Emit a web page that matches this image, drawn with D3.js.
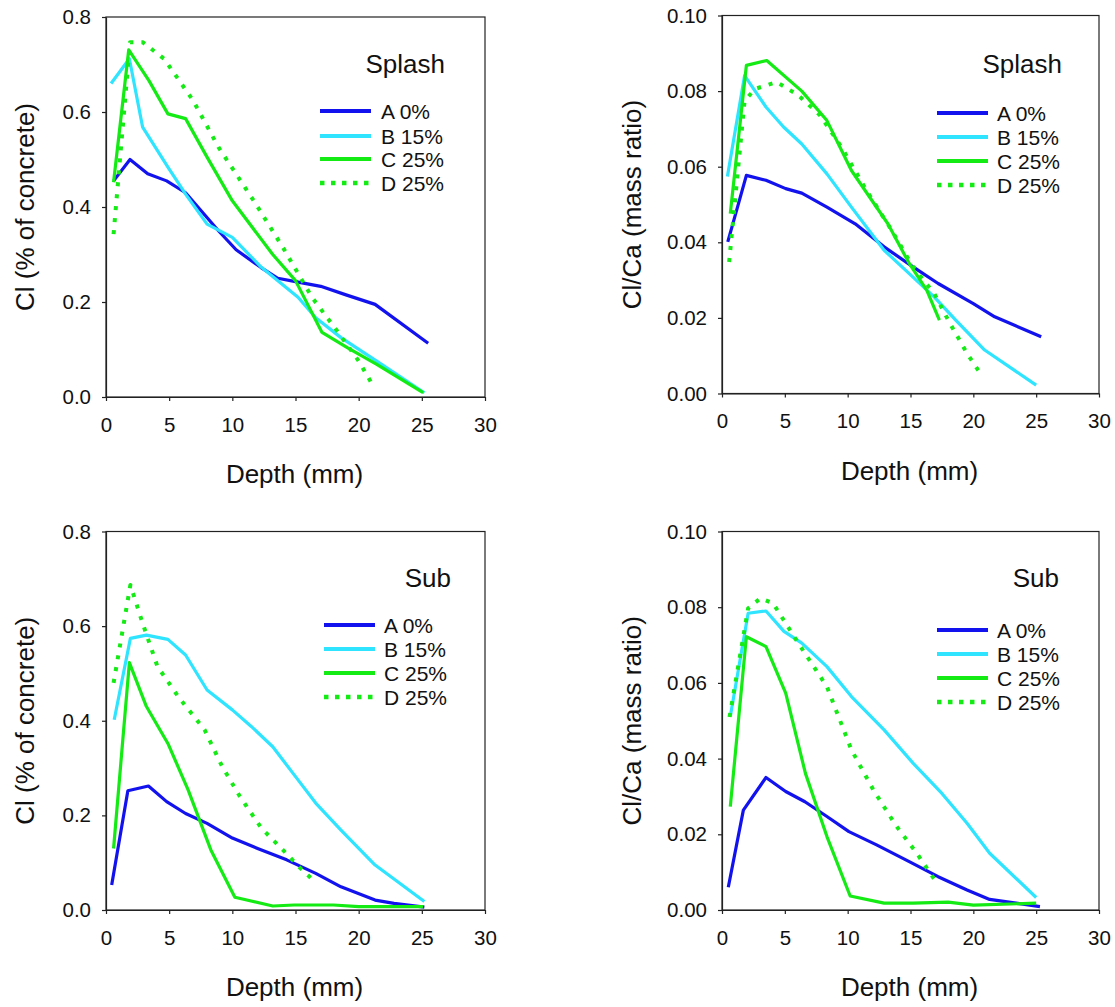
<!DOCTYPE html>
<html>
<head>
<meta charset="utf-8">
<script src="https://cdn.jsdelivr.net/npm/d3@7"></script>
<style>
  body { margin: 0; background: #fff; }
  text { font-family: "Liberation Sans", Arial, sans-serif; fill: #111; }
</style>
</head>
<body>
<svg id="chart" width="1115" height="1007"></svg>
<script>
// ---------- data (depth mm, value) ----------
const seriesNames = ["A 0%", "B 15%", "C 25%", "D 25%"];
const seriesColors = ["#1212ee", "#2ee4ff", "#14ea14", "#14ea14"];
const seriesDashed = [false, false, false, true];

const xTicks = [0, 5, 10, 15, 20, 25, 30];
const clTicks = [0.0, 0.2, 0.4, 0.6, 0.8];
const ratioTicks = [0.00, 0.02, 0.04, 0.06, 0.08, 0.10];

// Splash – Cl (% of concrete)
const splashClA = [[0.6,0.455],[1.9,0.50],[3.3,0.47],[4.8,0.455],[6.3,0.43],[7.6,0.39],[8.9,0.35],[10.3,0.31],[12.3,0.272],[13.6,0.25],[15,0.243],[17,0.233],[19,0.215],[21.3,0.195],[25.5,0.113]];
const splashClB = [[0.4,0.66],[1.85,0.712],[2.9,0.568],[4.9,0.484],[6.3,0.427],[8.0,0.364],[10,0.336],[12.3,0.273],[15.2,0.21],[16.6,0.167],[18.6,0.125],[21.4,0.076],[25.2,0.009]];
const splashClC = [[0.6,0.452],[1.8,0.731],[3.4,0.666],[4.9,0.596],[6.3,0.586],[8.0,0.505],[10,0.413],[13.2,0.30],[15,0.245],[17.1,0.136],[19.1,0.104],[21.4,0.069],[25.1,0.009]];
const splashClD = [[0.6,0.343],[1.9,0.747],[2.9,0.747],[4.6,0.712],[6.9,0.624],[8.9,0.526],[11.7,0.413],[14.0,0.315],[16.3,0.21],[18.3,0.139],[20,0.076],[21,0.030]];

// Splash – Cl/Ca (mass ratio)
const splashRatioA = [[0.46,0.0401],[1.94,0.0577],[3.5,0.0564],[5.07,0.0542],[6.35,0.053],[8.35,0.0493],[10.6,0.0449],[12.9,0.0388],[15.2,0.0335],[17.2,0.0291],[20,0.0238],[21.7,0.0203],[25.4,0.015]];
const splashRatioB = [[0.43,0.0574],[1.8,0.0841],[3.5,0.0758],[4.9,0.0705],[6.35,0.066],[8.35,0.0581],[10.3,0.0493],[12.9,0.0379],[15.2,0.0308],[16.9,0.0255],[18.6,0.0194],[20.9,0.0115],[25,0.0022]];
const splashRatioC = [[0.66,0.0476],[1.94,0.0868],[3.56,0.0881],[6.35,0.080],[8.35,0.0722],[10.3,0.059],[13.2,0.0449],[14.9,0.0344],[16.3,0.0273],[17.3,0.0194]];
const splashRatioD = [[0.57,0.0348],[1.8,0.0775],[2.65,0.0806],[4.36,0.0824],[6.07,0.0789],[7.8,0.0736],[9.5,0.0652],[11.5,0.0537],[13.5,0.0432],[15.2,0.0335],[16.9,0.0264],[18,0.0194],[19.5,0.0106],[20.7,0.0046]];

// Sub – Cl (% of concrete)
const subClA = [[0.45,0.053],[1.73,0.252],[3.36,0.262],[4.8,0.229],[6.3,0.204],[8.0,0.183],[10,0.152],[12,0.13],[14.3,0.106],[16.6,0.0775],[18.6,0.049],[21.3,0.021],[22.8,0.014],[25.2,0.006]];
const subClB = [[0.65,0.402],[1.93,0.574],[3.2,0.581],[4.9,0.572],[6.3,0.539],[8.0,0.465],[10,0.423],[11.5,0.388],[13.2,0.345],[15.2,0.275],[16.6,0.226],[18.6,0.169],[21.3,0.095],[25.2,0.018]];
const subClC = [[0.6,0.13],[1.85,0.523],[3.2,0.43],[4.9,0.352],[6.5,0.254],[8.3,0.127],[10.2,0.027],[13.2,0.0085],[14.9,0.0106],[18,0.0106],[20,0.007],[25.1,0.007]];
const subClD = [[0.6,0.48],[1.93,0.687],[2.9,0.606],[4.07,0.515],[5.8,0.448],[7.8,0.381],[9.2,0.303],[10.6,0.24],[12.3,0.173],[14,0.127],[15.4,0.088],[16.4,0.063]];

// Sub – Cl/Ca (mass ratio)
const subRatioA = [[0.5,0.006],[1.7,0.0264],[3.5,0.035],[5.07,0.0313],[6.6,0.0286],[8.35,0.0247],[10.1,0.0207],[12.3,0.0172],[14.9,0.0128],[17.2,0.0088],[19.5,0.0053],[21.3,0.0028],[23.4,0.0018],[25.3,0.0009]];
const subRatioB = [[0.66,0.0511],[2.08,0.0784],[3.5,0.079],[4.93,0.0736],[6.35,0.0705],[8.35,0.0643],[10.3,0.0564],[12.9,0.0476],[15.2,0.0388],[17.5,0.0308],[19.5,0.0229],[21.3,0.015],[25,0.0033]];
const subRatioC = [[0.66,0.0273],[1.94,0.0722],[3.5,0.0696],[5.07,0.0573],[6.64,0.0361],[8.35,0.0194],[10.2,0.0037],[12.9,0.0018],[15.2,0.0018],[18,0.0021],[20,0.0013],[25,0.0018]];
const subRatioD = [[0.6,0.051],[2.08,0.0797],[3.08,0.0824],[4.07,0.081],[6.07,0.0705],[8.35,0.059],[10.3,0.0423],[12.05,0.0317],[13.8,0.0225],[15.5,0.015],[17.2,0.0066]];

// ---------- panels ----------
const panels = [
  {left:106, right:485, top:17, bottom:397, yMax:0.8, ticks:clTicks, fmt:d3.format(".1f"),
   ytitle:"Cl (% of concrete)", ytitleX:34, label:"Splash", labelX:445, labelY:73,
   legX:320, legTextX:381, legY:[111,136,159,183],
   series:[splashClA, splashClB, splashClC, splashClD]},
  {left:722, right:1099, top:15.5, bottom:393.5, yMax:0.10, ticks:ratioTicks, fmt:d3.format(".2f"),
   ytitle:"Cl/Ca (mass ratio)", ytitleX:641, label:"Splash", labelX:1062, labelY:73,
   legX:937, legTextX:997, legY:[113,137,161,185],
   series:[splashRatioA, splashRatioB, splashRatioC, splashRatioD]},
  {left:106, right:485, top:531.5, bottom:910, yMax:0.8, ticks:clTicks, fmt:d3.format(".1f"),
   ytitle:"Cl (% of concrete)", ytitleX:34, label:"Sub", labelX:451, labelY:587,
   legX:324, legTextX:384, legY:[625,649,673,697],
   series:[subClA, subClB, subClC, subClD]},
  {left:722, right:1099, top:531.5, bottom:910, yMax:0.10, ticks:ratioTicks, fmt:d3.format(".2f"),
   ytitle:"Cl/Ca (mass ratio)", ytitleX:641, label:"Sub", labelX:1059, labelY:587,
   legX:937, legTextX:997, legY:[630,654,678,702],
   series:[subRatioA, subRatioB, subRatioC, subRatioD]}
];

const svg = d3.select("#chart");

panels.forEach(p => {
  const x = d3.scaleLinear().domain([0, 30]).range([p.left, p.right]);
  const y = d3.scaleLinear().domain([0, p.yMax]).range([p.bottom, p.top]);
  const g = svg.append("g");

  // frame (top and right borders)
  g.append("rect")
    .attr("x", p.left).attr("y", p.top)
    .attr("width", p.right - p.left).attr("height", p.bottom - p.top)
    .attr("fill", "none").attr("stroke", "#222").attr("stroke-width", 1.2);

  // x axis
  const xa = g.append("g").attr("transform", `translate(0,${p.bottom})`)
    .call(d3.axisBottom(x).tickValues(xTicks).tickSize(4).tickSizeOuter(0).tickPadding(16).tickFormat(d3.format("d")));
  // y axis
  const ya = g.append("g").attr("transform", `translate(${p.left},0)`)
    .call(d3.axisLeft(y).tickValues(p.ticks).tickSize(4).tickSizeOuter(0).tickPadding(11).tickFormat(p.fmt));
  [xa, ya].forEach(a => {
    a.selectAll("path.domain").attr("stroke", "#222").attr("stroke-width", 1.2);
    a.selectAll(".tick line").attr("stroke", "#222").attr("stroke-width", 1.2);
    a.selectAll(".tick text").attr("font-size", 20.5)
      .attr("font-family", '"Liberation Sans", Arial, sans-serif').attr("fill", "#111");
  });

  // axis titles
  g.append("text")
    .attr("x", (p.left + p.right) / 2 - 1).attr("y", p.bottom + 86)
    .attr("text-anchor", "middle").attr("font-size", 26)
    .text("Depth (mm)");
  g.append("text")
    .attr("transform", `translate(${p.ytitleX},${(p.top + p.bottom) / 2}) rotate(-90)`)
    .attr("text-anchor", "middle").attr("font-size", 26)
    .text(p.ytitle);

  // lines
  const line = d3.line().x(d => x(d[0])).y(d => y(d[1]));
  p.series.forEach((s, i) => {
    g.append("path").datum(s)
      .attr("d", line)
      .attr("fill", "none")
      .attr("stroke", seriesColors[i])
      .attr("stroke-width", seriesDashed[i] ? 4 : 3.2)
      .attr("stroke-linejoin", "round")
      .attr("stroke-dasharray", seriesDashed[i] ? "4,8" : null);
  });

  // panel label
  g.append("text")
    .attr("x", p.labelX).attr("y", p.labelY)
    .attr("text-anchor", "end").attr("font-size", 26)
    .text(p.label);

  // legend
  seriesNames.forEach((name, i) => {
    const ly = p.legY[i];
    g.append("line")
      .attr("x1", p.legX).attr("x2", p.legX + 51)
      .attr("y1", ly).attr("y2", ly)
      .attr("stroke", seriesColors[i])
      .attr("stroke-width", seriesDashed[i] ? 4.5 : 3.8)
      .attr("stroke-dasharray", seriesDashed[i] ? "4.5,6.5" : null);
    g.append("text")
      .attr("x", p.legTextX).attr("y", ly + 7.5)
      .attr("font-size", 21)
      .text(name);
  });
});
</script>
</body>
</html>
